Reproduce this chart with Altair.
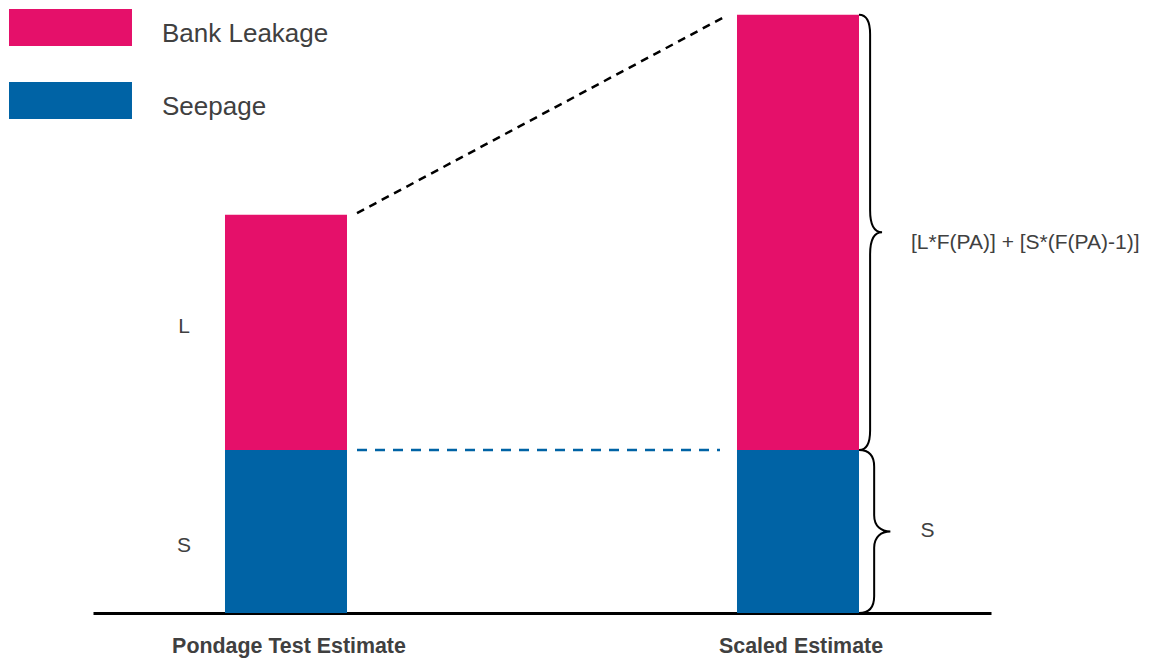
import altair as alt
import pandas as pd

# Estimates and their components
CATEGORIES = ["Pondage Test Estimate", "Scaled Estimate"]
COMPONENTS = ["Bank Leakage", "Seepage"]

# Component sizes for each estimate (relative units)
SEEPAGE = [30.0, 30.0]
BANK_LEAKAGE = [43.3, 80.1]

# Annotation text
LEAK_SYMBOL = "L"
SEEP_SYMBOL = "S"
FORMULA = "[L*F(PA)] + [S*(F(PA)-1)]"

PINK = "#E5106A"
BLUE = "#0063A5"
TEXT = "#404040"
FONT = "Liberation Sans"

PLOT_W, PLOT_H = 898, 613
Y_MAX = 112.8

# ---- stacked bars -------------------------------------------------------
bar_rows = []
for cat, s, l in zip(CATEGORIES, SEEPAGE, BANK_LEAKAGE):
    bar_rows.append({"cat": cat, "part": "Seepage", "value": s, "rank": 0})
    bar_rows.append({"cat": cat, "part": "Bank Leakage", "value": l, "rank": 1})
bars_df = pd.DataFrame(bar_rows)

x_scale = alt.Scale(domain=CATEGORIES, paddingInner=0.7617, paddingOuter=0.2578)
y_scale = alt.Scale(domain=[0, Y_MAX], nice=False, zero=True)

x_axis = alt.Axis(
    title=None, labelAngle=0, ticks=False, tickSize=0, grid=False,
    domainColor="black", domainWidth=3,
    labelFont=FONT, labelFontSize=21.4, labelFontWeight="bold",
    labelColor=TEXT, labelPadding=22, labelLimit=400, labelOffset=3,
)


def x_enc(band=None):
    if band is None:
        return alt.X("cat:N", scale=x_scale, axis=x_axis)
    return alt.X("cat:N", scale=x_scale, axis=x_axis, bandPosition=band)


def y_enc(field):
    return alt.Y(field, scale=y_scale, axis=None)


# wide flat legend swatches: the symbol path reaches past its unit box so the
# swatch is 123px wide while each legend row stays compact
legend = alt.Legend(
    title=None, orient="none", legendX=9 - 93, legendY=9, padding=0,
    symbolType="M-1,-1H4.02V0.51H-1Z", symbolSize=49 * 49,
    symbolStrokeWidth=0, symbolOpacity=1,
    labelFont=FONT, labelFontSize=26, labelColor=TEXT, labelLimit=400,
    labelOffset=104, rowPadding=35,
)

bars = alt.Chart(bars_df).mark_bar(opacity=1, strokeWidth=0).encode(
    x=x_enc(),
    y=alt.Y("value:Q", stack="zero", scale=y_scale, axis=None),
    color=alt.Color("part:N", scale=alt.Scale(domain=COMPONENTS, range=[PINK, BLUE]), legend=legend),
    order=alt.Order("rank:Q"),
)

# ---- dashed connectors between the bars ---------------------------------
top_df = pd.DataFrame({
    "cat": [CATEGORIES[0]], "cat2": [CATEGORIES[1]],
    "y": [SEEPAGE[0] + BANK_LEAKAGE[0]], "y2": [SEEPAGE[1] + BANK_LEAKAGE[1]],
})
top_link = alt.Chart(top_df).mark_rule(
    color="black", strokeWidth=2.5, strokeDash=[8, 6],
    xOffset=10, x2Offset=-14, yOffset=-1.5, y2Offset=3,
).encode(
    x=x_enc(1), x2=alt.X2("cat2", bandPosition=0),
    y=y_enc("y:Q"), y2="y2:Q",
)

seep_df = pd.DataFrame({"cat": [CATEGORIES[0]], "cat2": [CATEGORIES[1]], "y": [SEEPAGE[0]]})
seep_link = alt.Chart(seep_df).mark_rule(
    color=BLUE, strokeWidth=2.5, strokeDash=[10, 8], xOffset=10, x2Offset=-17,
).encode(
    x=x_enc(1), x2=alt.X2("cat2", bandPosition=0), y=y_enc("y:Q"),
)

# ---- curly braces beside the scaled bar ---------------------------------
# symbol paths in unit space: y spans [-1, 1], stretched to the segment height
UPPER_BRACE = (
    "M0,-1 C0.037,-1 0.051,-0.970 0.051,-0.910 L0.051,-0.101 "
    "C0.051,-0.037 0.069,0 0.106,0 C0.069,0 0.051,0.037 0.051,0.101 "
    "L0.051,0.910 C0.051,0.970 0.037,1 0,1"
)
LOWER_BRACE = (
    "M0,-1 C0.124,-1 0.186,-0.932 0.186,-0.795 L0.186,-0.199 "
    "C0.186,-0.062 0.273,0 0.385,0 C0.273,0 0.186,0.062 0.186,0.199 "
    "L0.186,0.795 C0.186,0.932 0.124,1 0,1"
)
brace_df = pd.DataFrame({
    "cat": [CATEGORIES[1], CATEGORIES[1]],
    "brace": ["upper", "lower"],
    "mid": [SEEPAGE[1] + BANK_LEAKAGE[1] / 2, SEEPAGE[1] / 2],
    "span": [BANK_LEAKAGE[1], SEEPAGE[1]],
})
braces = alt.Chart(brace_df).mark_point(
    filled=False, color="black", strokeWidth=2, opacity=1,
).encode(
    x=x_enc(1),
    y=y_enc("mid:Q"),
    shape=alt.Shape("brace:N", scale=alt.Scale(domain=["upper", "lower"], range=[UPPER_BRACE, LOWER_BRACE]), legend=None),
    size=alt.Size("span:Q", scale=alt.Scale(type="pow", exponent=2, domain=[0, Y_MAX], range=[0, PLOT_H ** 2]), legend=None),
)


# ---- text annotations ---------------------------------------------------
def note(cat, y, text, band, dx, dy, align="center"):
    df = pd.DataFrame({"cat": [cat], "y": [y], "t": [text]})
    return alt.Chart(df).mark_text(
        font=FONT, fontSize=21, color=TEXT, align=align, baseline="middle", dx=dx, dy=dy,
    ).encode(x=x_enc(band), y=y_enc("y:Q"), text="t:N")


notes = [
    note(CATEGORIES[0], SEEPAGE[0] + BANK_LEAKAGE[0] / 2, LEAK_SYMBOL, 0, -41, -5),
    note(CATEGORIES[0], SEEPAGE[0] / 2, SEEP_SYMBOL, 0, -41, 15),
    note(CATEGORIES[1], SEEPAGE[1] / 2, SEEP_SYMBOL, 1, 68.5, 0),
    note(CATEGORIES[1], SEEPAGE[1] + BANK_LEAKAGE[1] / 2, FORMULA, 1, 52, 11, align="left"),
]

chart = alt.layer(bars, top_link, seep_link, braces, *notes).properties(
    width=PLOT_W, height=PLOT_H,
    padding={"left": 93, "top": 0, "right": 166, "bottom": 49},
    autosize=alt.AutoSizeParams(type="none"),
    background="white",
).configure_view(stroke=None)

chart.save("out.html", embed_options={"renderer": "svg", "actions": False})
